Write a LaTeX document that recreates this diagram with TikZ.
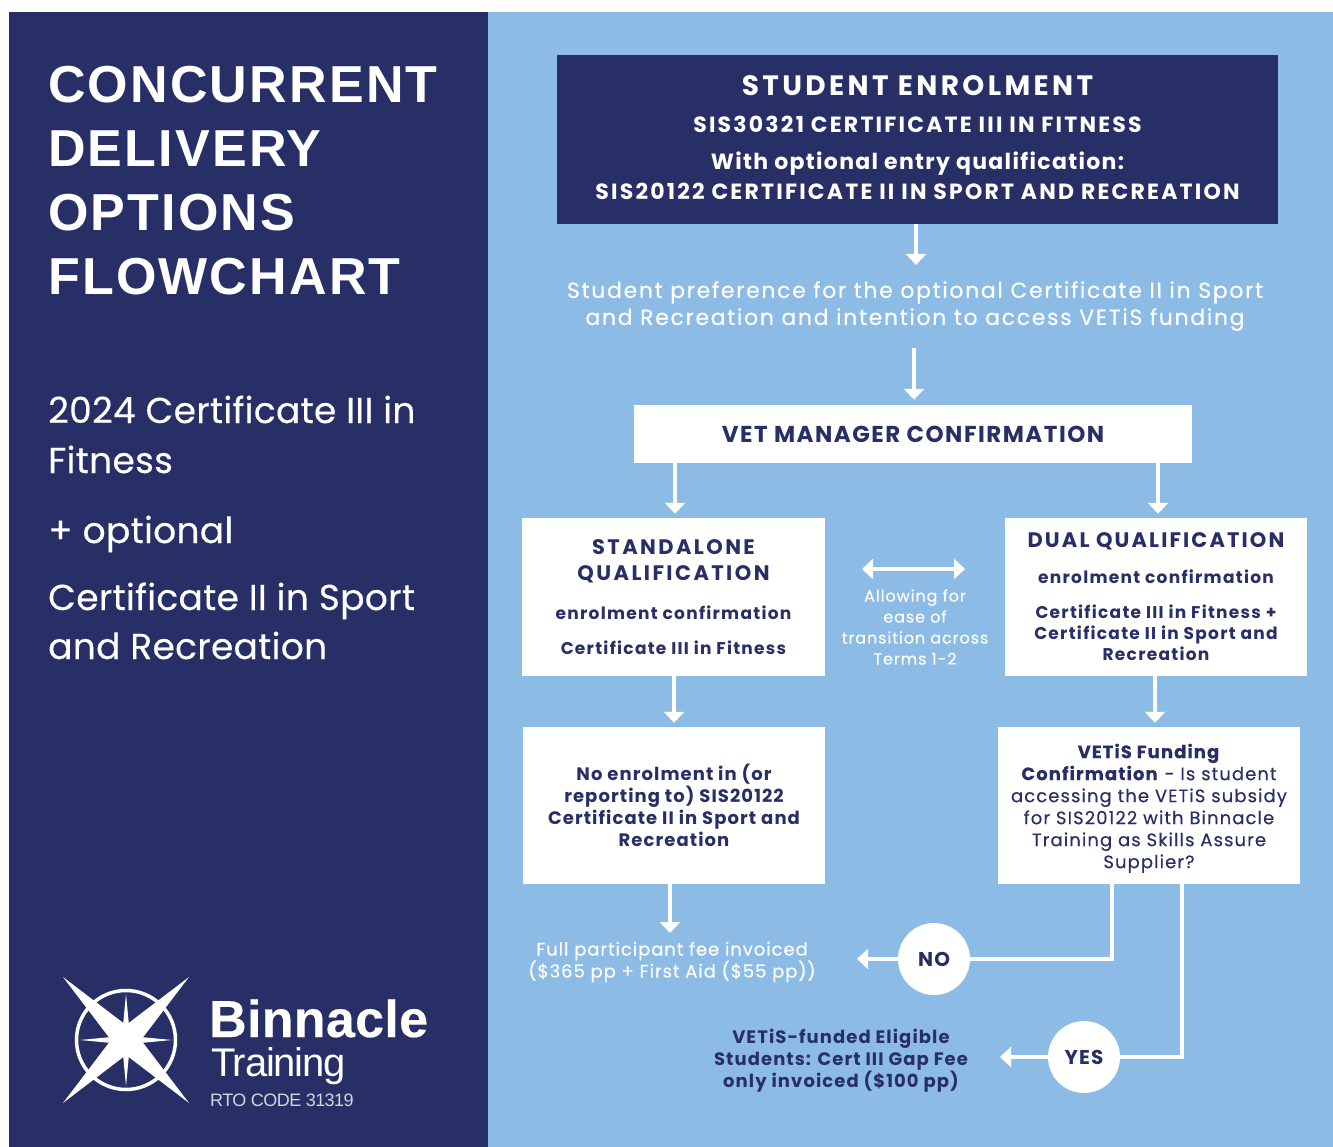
\documentclass[tikz,border=0pt]{standalone}
\usepackage{fontspec}
\setmainfont{Poppins}
\newfontfamily\ttlf[LetterSpace=4.2]{Liberation Sans}
\newfontfamily\lgf[LetterSpace=-3]{Liberation Sans}
\newfontfamily\lgb[LetterSpace=0.6,FakeBold=0.3]{Liberation Sans}
\newfontfamily\bodyf{Poppins}
\newfontfamily\medf[FakeBold=0.25]{Poppins}
\newcommand\fz[2]{\fontsize{#1}{#2}\selectfont}
\newcommand\fq[3]{\fontsize{#1}{#2}\selectfont\addfontfeature{LetterSpace=#3}}
\usetikzlibrary{arrows.meta}
\definecolor{navy}{HTML}{282F67}
\definecolor{sky}{HTML}{8CBCE5}
\tikzset{
 box/.style={fill=white,draw=none,inner sep=0pt,align=center,text=navy,font=\bodyf\bfseries},
 dbox/.style={box,fill=navy,text=white},
 flowline/.style={draw=white,line width=3.5pt},
 flow/.style={flowline,-{Triangle[width=20pt,length=11pt]}},
 plain/.style={inner sep=0pt,align=center},
 lbl/.style={plain,text=white},
 dark/.style={plain,text=navy},
 ttl/.style={anchor=base west,inner sep=0pt,text=white,font=\ttlf\bfseries\fz{52}{52}},
 side/.style={anchor=base west,inner sep=0pt,text=white,font=\medf\fq{36}{36}{0.8}},
 circ/.style={circle,fill=white,minimum size=72pt,inner sep=0pt,text=navy,font=\bodyf\bfseries\fq{20}{20}{6}},
}
\begin{document}
\begin{tikzpicture}[x=1pt,y=-1pt]
\useasboundingbox (0,0) rectangle (1333,1147);
\fill[white] (0,0) rectangle (1333,1147);
\fill[navy] (9,12) rectangle (488,1147);
\fill[sky] (488,12) rectangle (1333,1147);
% left panel
\node[ttl] (t1) at (48,103) {CONCURRENT};
\node[ttl] (t2) at (48,167) {DELIVERY};
\node[ttl] (t3) at (48,231) {OPTIONS};
\node[ttl] (t4) at (48,295) {FLOWCHART};
\node[side] (s1) at (48,423) {2024 Certificate III in};
\node[side] (s2) at (48,473) {Fitness};
\node[side] (s3) at (48,543) {+ optional};
\node[side] (s4) at (48,610) {Certificate II in Sport};
\node[side] (s5) at (48,659) {and Recreation};
% logo
\begin{scope}[shift={(126,1040)}]
\draw[white,line width=3.5pt] (0,0) circle (49.5);
\fill[white] (-63,-63) -- (-15,0) -- (-63,63) -- (0,15) -- (63,63) -- (15,0) -- (63,-63) -- (0,-15) -- cycle;
\fill[white] (0,-46) -- (4,-4) -- (46,0) -- (4,4) -- (0,46) -- (-4,4) -- (-46,0) -- (-4,-4) -- cycle;
\end{scope}
\node[anchor=base west,inner sep=0pt,text=white,font=\lgb\bfseries\fz{52}{52}] (lg1) at (209,1037) {Binnacle};
\node[anchor=base west,inner sep=0pt,text=white,font=\lgf\fz{40}{40}] (lg2) at (211,1076) {Training};
\node[anchor=base west,inner sep=0pt,text=white!80!navy,font=\lgf\fz{18}{18}] (lg3) at (210,1106) {RTO CODE 31319};
% boxes
\node[dbox,minimum width=721pt,minimum height=169pt,font=\bodyf\bfseries\fz{22}{30}] (enrol) at (917.5,139.5)
 {\fq{28}{30}{12}STUDENT ENROLMENT\\[7pt]\fq{22}{30}{10}SIS30321 CERTIFICATE III IN FITNESS\\[7pt]\fq{22}{30}{6}With optional entry qualification:\\\fq{22}{30}{10}\rule[-4pt]{0pt}{0pt}SIS20122 CERTIFICATE II IN SPORT AND RECREATION};
\node[lbl,font=\medf\fq{22}{27}{7.6}] (pref) at (915,306) {Student preference for the optional Certificate II in Sport\\and Recreation and intention to access VETiS funding};
\node[box,minimum width=558pt,minimum height=58pt,font=\bodyf\bfseries\fq{23}{26}{6.5}] (vet) at (913,434) {VET MANAGER CONFIRMATION};
\node[box,minimum width=303pt,minimum height=158pt,font=\bodyf\bfseries\fz{17}{26}] (sa) at (673.5,597)
 {\fq{21}{26}{11.5}STANDALONE\\\fq{21}{26}{11.5}QUALIFICATION\\[13pt]\fq{17}{20}{7.5}enrolment confirmation\\[9pt]\fq{17}{20}{7.5}Certificate III in Fitness};
\node[box,minimum width=302pt,minimum height=158pt,font=\bodyf\bfseries\fz{17}{21}] (dual) at (1156,597)
 {\fq{21}{26}{10}DUAL QUALIFICATION\\[15pt]\fq{17}{21}{7.5}enrolment confirmation\\[14pt]\fq{17}{21}{7.5}Certificate III in Fitness +\\\fq{17}{21}{7.5}Certificate II in Sport and\\\fq{17}{21}{7.5}Recreation};
\node[box,minimum width=302pt,minimum height=157pt,font=\bodyf\bfseries\fq{18}{22}{6}] (noen) at (674,805.5)
 {No enrolment in (or\\reporting to) SIS20122\\Certificate II in Sport and\\Recreation};
\node[box,minimum width=302pt,minimum height=157pt,font=\medf\fq{18}{22}{6}] (vetis) at (1149,805.5)
 {\rule{0pt}{20pt}\textbf{VETiS Funding}\\\textbf{Confirmation} - Is student\\accessing the VETiS subsidy\\for SIS20122 with Binnacle\\Training as Skills Assure\\Supplier?};
\node[lbl,font=\medf\fq{16}{21}{5.6}] (allow) at (915,627) {Allowing for\\ease of\\transition across\\Terms 1-2};
\node[lbl,font=\medf\fq{18}{22}{5.2}] (full) at (672,962) {Full participant fee invoiced\\(\$365 pp + First Aid (\$55 pp))};
\node[dark,font=\bodyf\bfseries\fq{18}{22}{6}] (elig) at (841,1061) {VETiS-funded Eligible\\Students: Cert III Gap Fee\\only invoiced (\$100 pp)};
\node[circ] (no) at (934,959) {NO};
\node[circ] (yes) at (1084,1057) {YES};
% free ends and routing columns
\coordinate (prefT) at (916,265);
\coordinate (prefB) at (914,348);
\coordinate (dblL) at (862,569);
\coordinate (dblR) at (965,569);
\coordinate (fullT) at (670,933);
\coordinate (noTip) at (857,959);
\coordinate (yesTip) at (1000,1057);
\coordinate (xa) at (675,0);
\coordinate (xb) at (1158,0);
\coordinate (xc) at (674,0);
\coordinate (xd) at (1155,0);
\coordinate (xe) at (1112,0);
\coordinate (xf) at (1182,0);
% connectors
\draw[flow] (enrol.south -| prefT) -- (prefT);
\draw[flow,shorten >=5pt] (prefB) -- (vet.north -| prefB);
\draw[flow,shorten >=4pt] (vet.south -| xa) -- (sa.north -| xa);
\draw[flow,shorten >=4pt] (vet.south -| xb) -- (dual.north -| xb);
\draw[flow,shorten >=4pt] (sa.south -| xc) -- (noen.north -| xc);
\draw[flow,shorten >=4pt] (dual.south -| xd) -- (vetis.north -| xd);
\draw[flow] (noen.south -| fullT) -- (fullT);
\draw[flowline] (vetis.south -| xe) |- (no.east);
\draw[flowline] (vetis.south -| xf) |- (yes.east);
\draw[flow] (no.west) -- (noTip);
\draw[flow] (yes.west) -- (yesTip);
\draw[flowline,{Triangle[width=20pt,length=11pt]}-{Triangle[width=20pt,length=11pt]}] (dblL) -- (dblR);
\end{tikzpicture}
\end{document}
